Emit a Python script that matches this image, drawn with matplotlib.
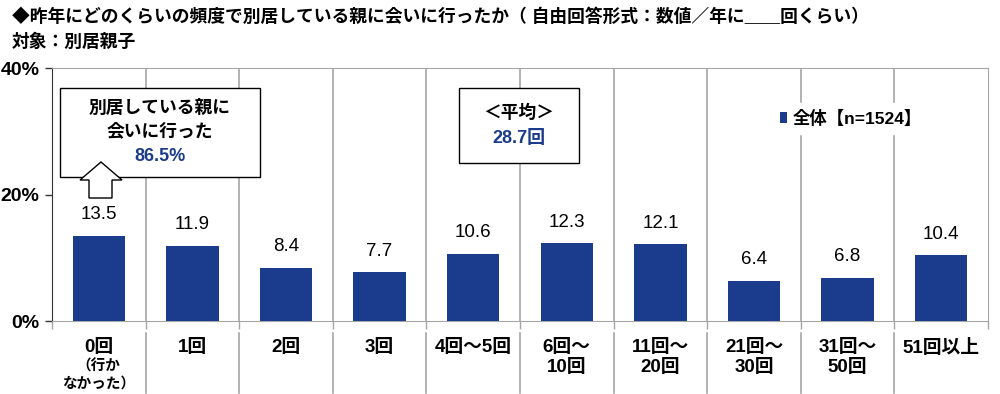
import matplotlib.pyplot as plt
import matplotlib.patches as mpatches
import matplotlib.transforms as mtransforms
import numpy as np

plt.rcParams['font.family'] = ['Liberation Sans', 'Noto Sans CJK JP', 'DejaVu Sans']

categories = ["0回", "1回", "2回", "3回", "4回～5回", "6回～\n10回",
              "11回～\n20回", "21回～\n30回", "31回～\n50回", "51回以上"]
sub_label = "（行か\nなかった）"
values = [13.5, 11.9, 8.4, 7.7, 10.6, 12.3, 12.1, 6.4, 6.8, 10.4]
yticks = [0, 20, 40]
series_name = "全体【n=1524】"
avg_text = "28.7回"
visited_text = "86.5%"

W, H = 1000, 394
blue = "#1B3C8C"
grey = "#A6A6A6"

if __name__ == "__main__":
    fig = plt.figure(figsize=(W / 100, H / 100), dpi=100)
    ax = fig.add_axes([52 / W, 1 - 321 / H, 936 / W, 253 / H])

    def fx(px):
        return px / W

    def fy(py):
        return 1 - py / H

    x = np.arange(len(values))
    ax.bar(x, values, width=0.56, color=blue, zorder=3, label=series_name)
    for xi, v in zip(x, values):
        ax.text(xi, v + 2.0, f"{v:.1f}", ha="center", va="bottom", fontsize=13.5)

    ax.set_xlim(-0.5, len(values) - 0.5)
    ax.set_ylim(0, 40)
    ax.set_yticks(yticks)
    ax.set_yticklabels([f"{t}%" for t in yticks], fontsize=14, fontweight="bold")
    ax.tick_params(axis="y", length=5, width=1, color="#333333", pad=4)
    ax.set_xticks(np.arange(len(values) + 1) - 0.5)
    ax.set_xticklabels([])
    ax.tick_params(axis="x", length=6, width=1, color=grey)

    for s in ["top", "right", "bottom"]:
        ax.spines[s].set_color(grey)
    ax.spines["left"].set_color("#333333")

    # vertical separators inside plot and in label area
    trans = mtransforms.blended_transform_factory(ax.transData, ax.transAxes)
    for b in np.arange(len(values) - 1) + 0.5:
        ax.axvline(b, color=grey, lw=1.2, zorder=1)
        ax.plot([b, b], [-12 / 253, -72 / 253], transform=trans, color=grey,
                lw=1.2, clip_on=False)

    # category labels
    for xi, lab in zip(x, categories):
        for k, line in enumerate(lab.split("\n")):
            ax.text(xi, -(27 + 20 * k) / 253, line, transform=trans, ha="center",
                    va="center", fontsize=13.5, fontweight="bold")
    for k, line in enumerate(sub_label.split("\n")):
        ax.text(0, -(45 + 18 * k) / 253, line, transform=trans, ha="center",
                va="center", fontsize=10.5, fontweight="bold")

    # legend
    leg = ax.legend(loc="upper left", bbox_to_anchor=((764 - 52) / 936, (321 - 94) / 253),
                    frameon=True, handlelength=0.45, handleheight=0.55,
                    handletextpad=0.3, borderpad=0.4, prop={"weight": "bold", "size": 12.5})
    leg.get_frame().set_edgecolor("white")
    leg.get_frame().set_facecolor("white")
    leg.get_frame().set_alpha(1)
    leg.get_frame().set_boxstyle("square", pad=0)
    leg.set_zorder(5)

    # title
    fig.text(fx(12), fy(17), "◆昨年にどのくらいの頻度で別居している親に会いに行ったか（ 自由回答形式：数値／年に＿＿回くらい）",
             fontsize=12.8, fontweight="bold", va="center", ha="left")
    fig.text(fx(12), fy(42), "対象：別居親子", fontsize=12.8, fontweight="bold",
             va="center", ha="left")

    # box 1
    fig.patches.append(mpatches.Rectangle((fx(60), fy(177)), fx(200), 89 / H,
                                          transform=fig.transFigure, facecolor="white",
                                          edgecolor="black", lw=1, zorder=6))
    fig.text(fx(160), fy(108), "別居している親に", fontsize=12.8, fontweight="bold",
             ha="center", va="center", zorder=7)
    fig.text(fx(160), fy(132), "会いに行った", fontsize=12.8, fontweight="bold",
             ha="center", va="center", zorder=7)
    fig.text(fx(160), fy(157), visited_text, fontsize=13, fontweight="bold",
             color=blue, ha="center", va="center", zorder=7)
    arrow_px = [(101, 162), (122, 180), (112, 180), (112, 198), (89, 198),
                (89, 180), (80, 180)]
    fig.patches.append(mpatches.Polygon([(fx(a), fy(b)) for a, b in arrow_px],
                                        closed=True, transform=fig.transFigure,
                                        facecolor="white", edgecolor="black",
                                        lw=1, zorder=8))

    # box 2
    fig.patches.append(mpatches.Rectangle((fx(459), fy(163)), fx(120), 75 / H,
                                          transform=fig.transFigure, facecolor="white",
                                          edgecolor="black", lw=1, zorder=6))
    fig.text(fx(519), fy(113), "＜平均＞", fontsize=12.8, fontweight="bold",
             ha="center", va="center", zorder=7)
    fig.text(fx(519), fy(138), avg_text, fontsize=13, fontweight="bold",
             color=blue, ha="center", va="center", zorder=7)

    fig.savefig("out.png", dpi=100)
